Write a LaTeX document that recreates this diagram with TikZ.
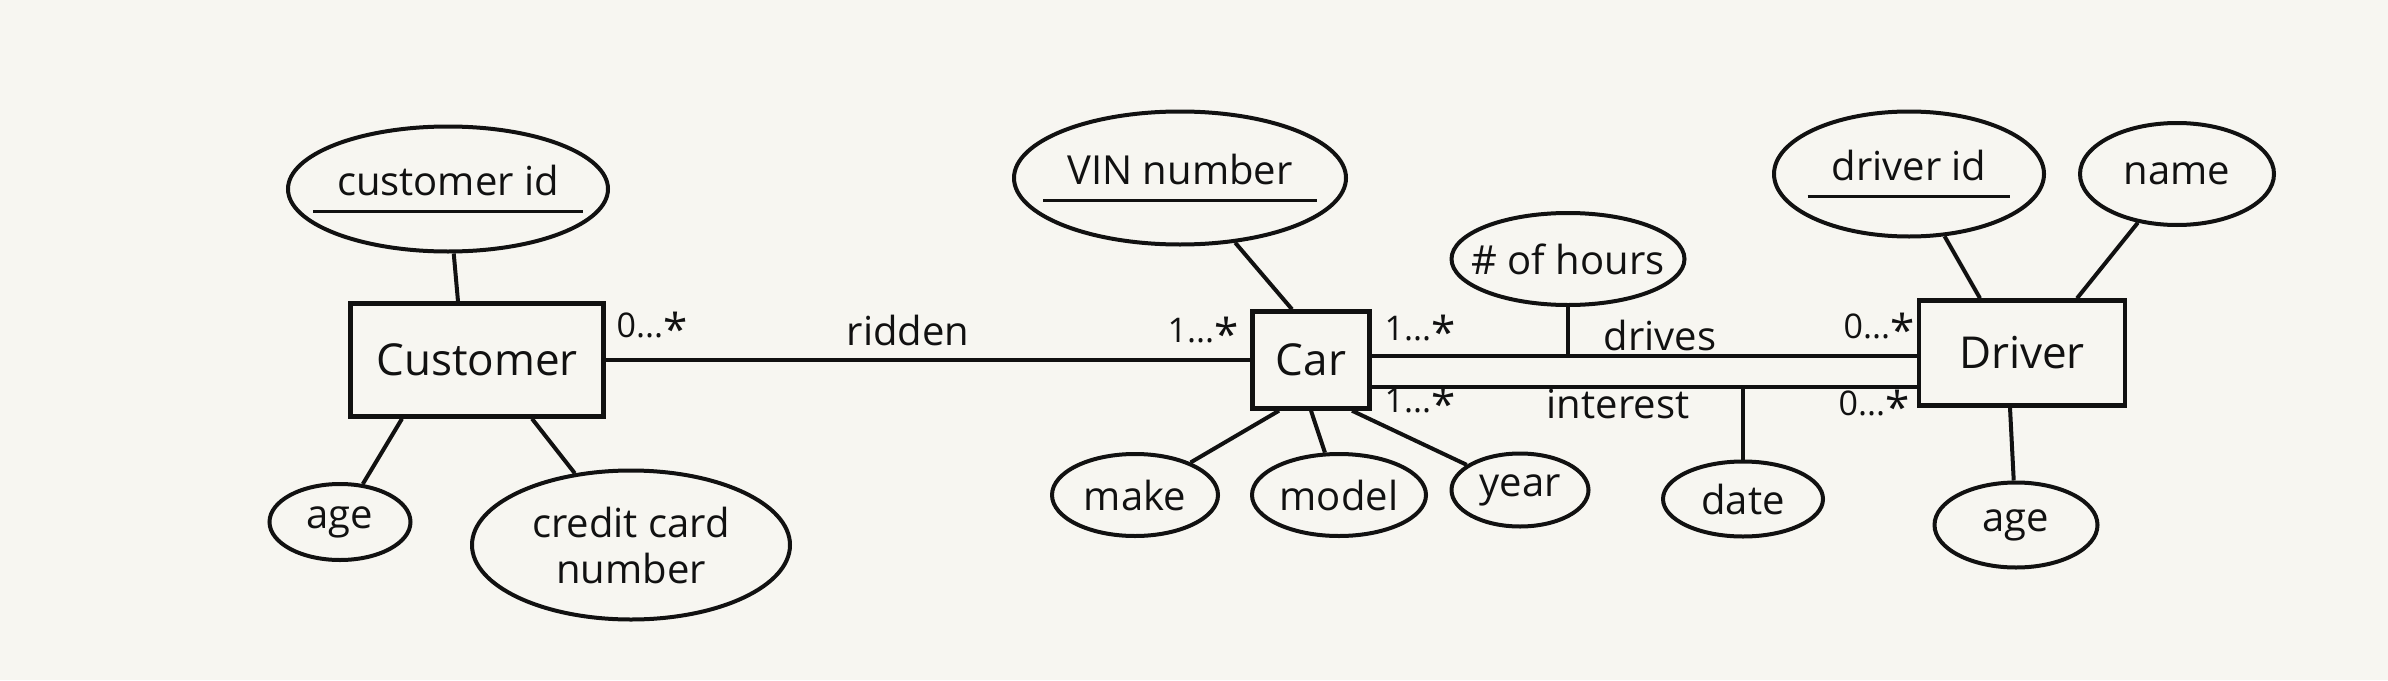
\documentclass[tikz,border=0pt]{standalone}
\usepackage{fontspec}
\setmainfont{Open Sans}
\usepackage{tikz}
\usetikzlibrary{calc}
\usetikzlibrary{shapes.geometric}
\definecolor{PaperWhite}{HTML}{F7F6F1}
\definecolor{InkBlack}{HTML}{111111}
\tikzstyle{entity} = [draw, rectangle, line width=2.2pt, inner sep=0pt, font=\fontsize{22}{26}\selectfont]
\tikzstyle{attr} = [draw, ellipse, line width=2pt, inner xsep=-10pt, inner ysep=0pt, align=center, font=\fontsize{20}{23}\selectfont]
\tikzstyle{mult} = [inner sep=0pt, font=\fontsize{17}{20}\selectfont]
\tikzstyle{rel} = [inner sep=0pt, font=\fontsize{20}{24}\selectfont]
% key attribute: text with a long bar under it
\newcommand{\keyattr}[1]{\setbox0\hbox{#1}\vtop{\hbox{#1}\nointerlineskip\kern7pt\hbox to \wd0{\hss\rule{\dimexpr\wd0+24pt\relax}{1.8pt}\hss}}}
\newcommand{\many}[1]{#1...\raisebox{-0.45ex}{\fontsize{22}{22}\selectfont *}}

\begin{document}
\begin{tikzpicture}[x=0.5pt, y=-0.5pt, line width=2pt, draw=InkBlack, text=InkBlack]
  	\fill[PaperWhite] (0,0) rectangle (2388,680);
  	\useasboundingbox (0,0) rectangle (2388,680);

  	% entities
  	\node[entity, minimum width=126.5pt, minimum height=56.5pt] (cust) at (477,360) {Customer};
  	\node[entity, minimum width=58.5pt, minimum height=48.5pt] (car) at (1311,360) {Car};
  	\node[entity, minimum width=103pt, minimum height=52.5pt] (drv) at (2022,353) {Driver};

  	% attributes
  	\node[attr, minimum width=160pt, minimum height=62.5pt] (cid) at (448,189) {\keyattr{customer id}};
  	\node[attr, minimum width=70.5pt, minimum height=38pt] (cage) at (340,522) {age};
  	\node[attr, minimum width=159pt, minimum height=74.5pt] (ccn) at (631,545) {credit card\\number};
  	\node[attr, minimum width=166pt, minimum height=66.5pt] (vin) at (1180,178) {\keyattr{VIN number}};
  	\node[attr, minimum width=116.5pt, minimum height=46pt] (hours) at (1568,259) {\# of hours};
  	\node[attr, minimum width=83pt, minimum height=41pt] (make) at (1135,495) {make};
  	\node[attr, minimum width=87pt, minimum height=41pt] (model) at (1339,495) {model};
  	\node[attr, minimum width=68.5pt, minimum height=36.5pt] (year) at (1520,490) {year};
  	\node[attr, minimum width=80pt, minimum height=37.5pt] (date) at (1743,499) {date};
  	\node[attr, minimum width=135pt, minimum height=62.5pt] (did) at (1909,174) {\keyattr{driver id}};
  	\node[attr, minimum width=97pt, minimum height=51pt] (name) at (2177,174) {name};
  	\node[attr, minimum width=81.5pt, minimum height=42.5pt] (dage) at (2016,525) {age};

  	% relationships
  	\draw (cust.east) -- (car.west);
  	\draw ($(car.east)+(0,-4)$) coordinate (drA) -- ($(drv.west)+(0,3)$);
  	\draw ($(car.east)+(0,27)$) coordinate (inA) -- ($(drv.west)+(0,34)$);
  	\draw (hours) -- (hours |- drA);
  	\draw (date) -- (date |- inA);

  	\node[rel] (ridden) at (908,330) {ridden};
  	\node[rel] (drives) at (1660,335) {drives};
  	\node[rel] (interest) at (1618,404) {interest};

  	\node[mult] (m1) at (652,329) {\many{0}};
  	\node[mult] (m2) at (1203,334) {\many{1}};
  	\node[mult] (m3) at (1420,332) {\many{1}};
  	\node[mult] (m4) at (1420,404) {\many{1}};
  	\node[mult] (m5) at (1879,330) {\many{0}};
  	\node[mult] (m6) at (1874,407) {\many{0}};

  	% attribute links
  	\draw (cid) -- ($(cust.north)+(-19,0)$);
  	\draw (cage) -- ($(cust.south)+(-75,0)$);
  	\draw (ccn) -- ($(cust.south)+(55,0)$);
  	\draw (vin) -- ($(car.north)+(-19,0)$);
  	\draw (make) -- ($(car.south)+(-32,0)$);
  	\draw (model) -- (car.south);
  	\draw (year) -- ($(car.south)+(41,0)$);
  	\draw (did) -- ($(drv.north)+(-42,0)$);
  	\draw (name) -- ($(drv.north)+(55,0)$);
  	\draw (dage) -- ($(drv.south)+(-12,0)$);
\end{tikzpicture}
\end{document}
